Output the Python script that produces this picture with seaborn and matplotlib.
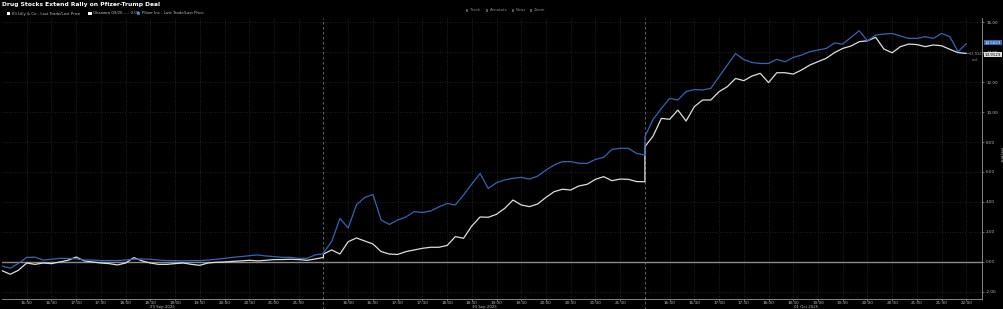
import pandas as pd
import matplotlib
matplotlib.use('Agg')
import matplotlib.pyplot as plt
import matplotlib.transforms as mtransforms
import seaborn as sns

# 取引時間 15:30-22:00 (10分刻み) x 3日
days = ['29 Sep 2025', '30 Sep 2025', '01 Oct 2025']
clock = list(pd.date_range('2025-09-29 15:30', '2025-09-29 22:00', freq='10min').strftime('%H:%M'))

lilly_d1 = [-0.58, -0.82, -0.55, -0.07, -0.16, -0.07, -0.11, 0.0, 0.11, 0.33,
            0.07, 0.0, -0.07, -0.11, -0.2, -0.07, 0.29, 0.07, -0.07, -0.16,
            -0.16, -0.11, -0.07, -0.16, -0.22, -0.07, -0.02, 0.0, 0.04, 0.07,
            0.11, 0.07, 0.11, 0.16, 0.16, 0.18, 0.16, 0.11, 0.2, 0.3]
lilly_d2 = [0.53, 0.8, 0.53, 1.35, 1.6, 1.4, 1.2, 0.69, 0.53, 0.5,
            0.69, 0.8, 0.91, 0.98, 0.98, 1.1, 1.69, 1.58, 2.4, 3.0,
            2.98, 3.18, 3.58, 4.13, 3.8, 3.69, 3.87, 4.31, 4.69, 4.85,
            4.8, 5.07, 5.18, 5.51, 5.69, 5.42, 5.53, 5.51, 5.36, 5.35]
lilly_d3 = [7.69, 8.4, 9.58, 9.51, 10.13, 9.4, 10.36, 10.8, 10.8, 11.36,
            11.69, 12.24, 12.09, 12.4, 12.58, 11.96, 12.62, 12.62, 12.53, 12.8,
            13.13, 13.36, 13.58, 13.96, 14.24, 14.4, 14.69, 14.75, 14.98, 14.2,
            13.95, 14.36, 14.53, 14.5, 14.36, 14.47, 14.42, 14.18, 13.96, 13.91]

pfizer_d1 = [-0.27, -0.42, -0.09, 0.3, 0.32, 0.13, 0.18, 0.24, 0.24, 0.2,
             0.13, 0.13, 0.09, 0.09, 0.09, 0.13, 0.18, 0.2, 0.18, 0.13,
             0.09, 0.09, 0.07, 0.09, 0.09, 0.13, 0.18, 0.24, 0.31, 0.36,
             0.42, 0.47, 0.4, 0.36, 0.31, 0.31, 0.24, 0.24, 0.47, 0.55]
pfizer_d2 = [0.62, 1.36, 2.9, 2.27, 3.8, 4.3, 4.5, 2.8, 2.5, 2.8,
             3.0, 3.36, 3.3, 3.4, 3.67, 3.9, 3.8, 4.47, 5.2, 5.9,
             4.9, 5.29, 5.47, 5.58, 5.64, 5.53, 5.73, 6.13, 6.47, 6.69,
             6.69, 6.58, 6.58, 6.84, 6.98, 7.51, 7.58, 7.58, 7.24, 7.13]
pfizer_d3 = [8.36, 9.51, 10.24, 10.91, 10.8, 11.36, 11.5, 11.47, 11.58, 12.36,
             13.13, 13.9, 13.5, 13.3, 13.24, 13.24, 13.51, 13.35, 13.64, 13.8,
             14.02, 14.13, 14.24, 14.6, 14.53, 14.98, 15.42, 14.75, 15.13, 15.2,
             15.24, 15.07, 14.91, 14.91, 15.02, 14.91, 15.24, 15.02, 14.02, 14.56]

tick_times = ['16:00', '16:30', '17:00', '17:30', '18:00', '18:30',
              '19:00', '19:30', '20:00', '20:30', '21:00', '21:30']
y_ticks = [-2, 0, 2, 4, 6, 8, 10, 12, 14, 16]

LILLY = 'Eli Lilly & Co - Last Trade/Last Price'
PFIZER = 'Pfizer Inc - Last Trade/Last Price'
BLUE = '#3067b8'
WHITE = '#dedede'
TXT = '#bdbdbd'
DAY_LEN = 390


def mins(hhmm):
    h, m = hhmm.split(':')
    return int(h) * 60 + int(m) - (15 * 60 + 30)


rows = []
for name, per_day in [(LILLY, [lilly_d1, lilly_d2, lilly_d3]),
                      (PFIZER, [pfizer_d1, pfizer_d2, pfizer_d3])]:
    for d, vals in enumerate(per_day):
        for c, v in zip(clock, vals):
            rows.append({'x': d * DAY_LEN + mins(c), 'value': v, 'series': name})
df = pd.DataFrame(rows)

sns.set_theme(style='dark', rc={'axes.facecolor': 'black', 'figure.facecolor': 'black',
                                'axes.edgecolor': '#9a9a9a', 'text.color': TXT})
plt.rcParams['font.family'] = ['DejaVu Sans']

fig = plt.figure(figsize=(10.04, 3.09), dpi=100)
W, H = 1004, 309
ax = fig.add_axes([2 / W, 10 / H, 980 / W, 281 / H])

# グリッド
for d in range(3):
    for t in tick_times:
        ax.axvline(d * DAY_LEN + mins(t), color='#2e2e2e', lw=0.6, ls=(0, (1, 2)), zorder=0)
ax.axvline(3 * DAY_LEN, color='#2e2e2e', lw=0.6, ls=(0, (1, 2)), zorder=0)
for yv in y_ticks:
    ax.axhline(yv, color='#2e2e2e', lw=0.6, ls=(0, (1, 2)), zorder=0)
for d in (1, 2):
    ax.axvline(d * DAY_LEN, color='#777777', lw=0.6, ls=(0, (3, 3)), ymin=-0.035,
               clip_on=False, zorder=1)

ax.axhline(0, color='#8a8a8a', lw=1.0, zorder=1)

sns.lineplot(data=df, x='x', y='value', hue='series', palette={LILLY: WHITE, PFIZER: BLUE},
             hue_order=[LILLY, PFIZER], sort=False, estimator=None, lw=0.9, ax=ax, legend=False)

ax.set_xlim(0, 1189)
ax.set_ylim(-2.47, 16.27)
ax.set_xlabel('')
ax.set_ylabel('')

# x軸
xt, xl = [], []
for d in range(3):
    for t in tick_times:
        xt.append(d * DAY_LEN + mins(t))
        xl.append(t)
xt.append(2 * DAY_LEN + mins('22:00'))
xl.append('22:00')
ax.set_xticks(xt)
ax.set_xticklabels(xl)
ax.tick_params(axis='x', colors=TXT, labelsize=3.0, length=1.2, width=0.4, pad=0.2, bottom=True)
trans = mtransforms.blended_transform_factory(ax.transData, fig.transFigure)
for d, lab in enumerate(days):
    ax.text(d * DAY_LEN + mins('18:45'), 1.6 / H, lab, transform=trans, ha='center', va='center',
            fontsize=2.8, color=TXT)

# y軸 (右)
ax.yaxis.tick_right()
ax.set_yticks(y_ticks)
ax.set_yticklabels([f'{v:.2f}' for v in y_ticks])
ax.tick_params(axis='y', colors=TXT, labelsize=3.0, length=1.5, width=0.4, pad=1.5, right=True)
for s in ['top', 'left']:
    ax.spines[s].set_visible(False)
ax.spines['right'].set_linewidth(0.6)
ax.spines['bottom'].set_linewidth(0.6)
fig.text(1001 / W, 0.5, 'Percent', rotation=270, ha='center', va='center', fontsize=3.0, color=TXT)

# 最終値ラベル
ytrans = mtransforms.blended_transform_factory(ax.transAxes, ax.transData)
ax.text(1.003, pfizer_d3[-1] + 0.05, f'{pfizer_d3[-1] + 0.0023:.4f}', transform=ytrans,
        fontsize=2.9, color='white', va='center', ha='left',
        bbox=dict(boxstyle='square,pad=0.12', fc=BLUE, ec='none'), clip_on=False)
ax.text(1.003, lilly_d3[-1] - 0.1, f'{lilly_d3[-1] + 0.0023:.4f}', transform=ytrans,
        fontsize=2.9, color='black', va='center', ha='left',
        bbox=dict(boxstyle='square,pad=0.12', fc=WHITE, ec='none'), clip_on=False)
ax.text(1170, 13.85, '\u221213.9123', fontsize=2.6, color='#9a9a9a', va='center', ha='left')
ax.text(1176, 13.45, 'n.d.', fontsize=2.6, color='#9a9a9a', va='center', ha='left')

# タイトル・凡例
fig.text(2 / W, 1 - 4.5 / H, 'Drug Stocks Extend Rally on Pfizer-Trump Deal', fontsize=4.3,
         weight='bold', color='white', va='center', ha='left')
leg_y = 1 - 13.5 / H
items = [(7, 'white', LILLY), (88, 'white', 'Obsawra 09/26 ---- 0.00'), (137, BLUE, PFIZER)]
for px, col, lab in items:
    fig.patches.append(plt.Rectangle((px / W, leg_y - 1.8 / H), 3.5 / W, 3.6 / H, fc=col, ec='none',
                                     transform=fig.transFigure, figure=fig))
    fig.text((px + 5) / W, leg_y, lab, fontsize=2.8, color=TXT, va='center', ha='left')

for px, lab in [(466, 'Track'), (486, 'Annotate'), (512, 'News'), (530, 'Zoom')]:
    fig.patches.append(plt.Rectangle((px / W, 1 - 11.5 / H), 2.5 / W, 2.5 / H, fc='#555555',
                                     ec='none', transform=fig.transFigure, figure=fig))
    fig.text((px + 4) / W, 1 - 10.3 / H, lab, fontsize=2.8, color='#8a8a8a', va='center', ha='left')

fig.savefig('out.png', dpi=100, facecolor='black')
